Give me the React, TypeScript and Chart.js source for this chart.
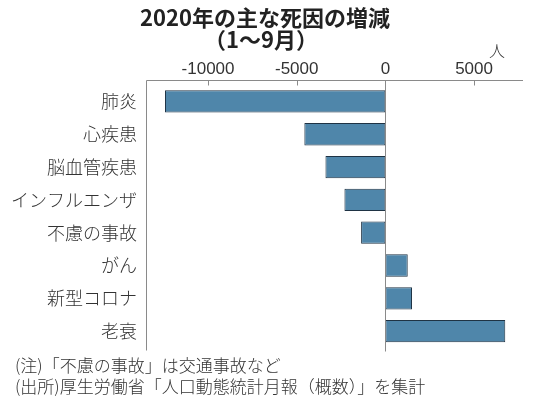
import React, { useEffect, useRef } from "react";
import { Chart, registerables } from "chart.js";

Chart.register(...registerables);

const categories = ["肺炎", "心疾患", "脳血管疾患", "インフルエンザ", "不慮の事故", "がん", "新型コロナ", "老衰"];
const changes = [-12430, -4570, -3380, -2310, -1370, 1260, 1500, 6760];
const tickValues = [-10000, -5000, 0, 5000];
const xMin = -13500;
const xMax = 7760;
const titleLines = ["2020年の主な死因の増減", "（1～9月）"];
const unitLabel = "人";
const notes = ["(注)「不慮の事故」は交通事故など", "(出所)厚生労働省「人口動態統計月報（概数）」を集計"];

const JP = "'Noto Sans CJK JP', 'Noto Sans', sans-serif";
const NUM = "'Liberation Sans Narrow', 'Liberation Sans', sans-serif";

const axisPlugin = {
  id: "axisLines",
  afterDatasetsDraw(chart: any) {
    const { ctx, chartArea, scales } = chart;
    const x = scales.x;
    const top = Math.round(chartArea.top - 5) + 0.5;
    const left = Math.round(chartArea.left) + 0.5;
    ctx.save();
    ctx.strokeStyle = "#8a8a8a";
    ctx.lineWidth = 1;
    ctx.beginPath();
    ctx.moveTo(left, top);
    ctx.lineTo(chartArea.right, top);
    ctx.moveTo(left, top);
    ctx.lineTo(left, chartArea.bottom + 3);
    tickValues.forEach((v) => {
      const px = Math.round(x.getPixelForValue(v)) + 0.5;
      ctx.moveTo(px, top);
      ctx.lineTo(px, v === 0 ? chartArea.bottom + 4 : top + 5);
    });
    ctx.stroke();
    ctx.restore();
  },
};

export default function App() {
  const canvasRef = useRef<HTMLCanvasElement>(null);

  useEffect(() => {
    if (!canvasRef.current) return;
    const chart = new Chart(canvasRef.current, {
      type: "bar",
      data: {
        labels: categories,
        datasets: [
          {
            data: changes,
            backgroundColor: "#4f86aa",
            borderColor: "#1f3344",
            borderWidth: 1,
            borderSkipped: false,
            barPercentage: 0.68,
            categoryPercentage: 1,
          },
        ],
      },
      options: {
        indexAxis: "y",
        animation: false,
        responsive: true,
        maintainAspectRatio: false,
        layout: { padding: { left: 0, right: 11, top: 0, bottom: 61.5 } },
        plugins: {
          legend: { display: false },
          tooltip: { enabled: false },
          title: { display: false },
        },
        scales: {
          x: {
            type: "linear",
            position: "top",
            min: xMin,
            max: xMax,
            afterBuildTicks: (s: any) => {
              s.ticks = tickValues.map((v) => ({ value: v }));
            },
            afterFit: (s: any) => {
              s.height = 85;
            },
            grid: { display: false, drawTicks: false },
            border: { display: false },
            ticks: {
              callback: (v: any) => String(v),
              font: { family: NUM, size: 17 },
              color: "#333",
              padding: 5,
              maxRotation: 0,
            },
          },
          y: {
            type: "category",
            afterFit: (s: any) => {
              s.width = 146;
            },
            grid: { display: false, drawTicks: false },
            border: { display: false },
            ticks: {
              font: { family: JP, size: 18, weight: "300" },
              color: "#333",
              padding: 9,
            },
          },
        },
      },
      plugins: [axisPlugin],
    } as any);
    return () => chart.destroy();
  }, []);

  const abs = (s: React.CSSProperties): React.CSSProperties => ({ position: "absolute", whiteSpace: "nowrap", ...s });

  return (
    <div style={{ position: "fixed", left: 0, top: 0, width: 534, height: 409, background: "#fff", fontFamily: JP, color: "#222" }}>
      <canvas ref={canvasRef} style={{ position: "absolute", left: 0, top: 0 }} />
      <div style={abs({ left: 0, width: 530, top: 1, height: 30, lineHeight: "30px", textAlign: "center", fontSize: 22, fontWeight: 700 })}>
        {titleLines[0]}
      </div>
      <div style={abs({ left: 0, width: 522, top: 23, height: 30, lineHeight: "30px", textAlign: "center", fontSize: 22, fontWeight: 700 })}>
        {titleLines[1]}
      </div>
      <div style={abs({ left: 489, top: 40, height: 20, lineHeight: "20px", fontSize: 16, fontWeight: 300, color: "#333" })}>{unitLabel}</div>
      <div style={abs({ left: 15, top: 353, height: 24, lineHeight: "24px", fontSize: 17, fontWeight: 300, color: "#333" })}>{notes[0]}</div>
      <div style={abs({ left: 15, top: 374, height: 24, lineHeight: "24px", fontSize: 17, fontWeight: 300, color: "#333" })}>{notes[1]}</div>
    </div>
  );
}
